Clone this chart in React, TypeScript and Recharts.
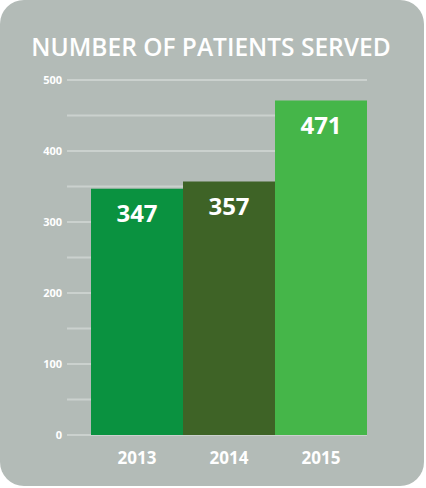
import { Bar, BarChart, CartesianGrid, Cell, LabelList, XAxis, YAxis } from "recharts";

const years = ["2013", "2014", "2015"];
const patients = [347, 357, 471];
const barColors = ["#0a9240", "#3e6326", "#45b649"];
const yTicks = [0, 50, 100, 150, 200, 250, 300, 350, 400, 450, 500];

const data = years.map((year, i) => ({ year, patients: patients[i] }));

const FONT = "'Open Sans', sans-serif";

export default function App() {
  return (
    <div style={{ position: "relative", width: 426, height: 488, background: "#fff" }}>
      <style>{`body{margin:0}`}</style>
      <div
        style={{
          position: "absolute",
          left: 0,
          top: 0,
          width: 424,
          height: 486,
          borderRadius: 24,
          background: "#b3bbb7",
        }}
      />
      <div
        style={{
          position: "absolute",
          left: 0,
          top: 31,
          width: 422,
          textAlign: "center",
          fontFamily: FONT,
          fontWeight: 600,
          fontSize: 24.5,
          color: "#fff",
          lineHeight: "32px",
          whiteSpace: "nowrap",
        }}
      >
        NUMBER OF PATIENTS SERVED
      </div>
      <BarChart
        width={426}
        height={488}
        data={data}
        margin={{ top: 80, right: 59, bottom: 23, left: 31 }}
        barCategoryGap={0}
        style={{ position: "absolute", left: 0, top: 0 }}
      >
        <CartesianGrid vertical={false} stroke="#cbd1ce" strokeWidth={2} />
        <XAxis
          dataKey="year"
          height={30}
          axisLine={false}
          tickLine={false}
          tickMargin={11}
          tick={{ fill: "#fff", fontFamily: FONT, fontWeight: 700, fontSize: 17 }}
        />
        <YAxis
          width={60}
          domain={[0, 500]}
          ticks={yTicks}
          interval={0}
          axisLine={false}
          tickSize={24}
          tickMargin={5}
          tickLine={{ stroke: "#cbd1ce", strokeWidth: 2 }}
          tickFormatter={(v: number) => (v % 100 === 0 ? String(v) : "")}
          tick={{ fill: "#fff", fontFamily: FONT, fontWeight: 700, fontSize: 11 }}
        />
        <Bar dataKey="patients" isAnimationActive={false}>
          {data.map((d, i) => (
            <Cell key={d.year} fill={barColors[i]} />
          ))}
          <LabelList
            dataKey="patients"
            position="insideTop"
            offset={16}
            fill="#fff"
            style={{ fontFamily: FONT, fontWeight: 700, fontSize: 24 }}
          />
        </Bar>
      </BarChart>
    </div>
  );
}
